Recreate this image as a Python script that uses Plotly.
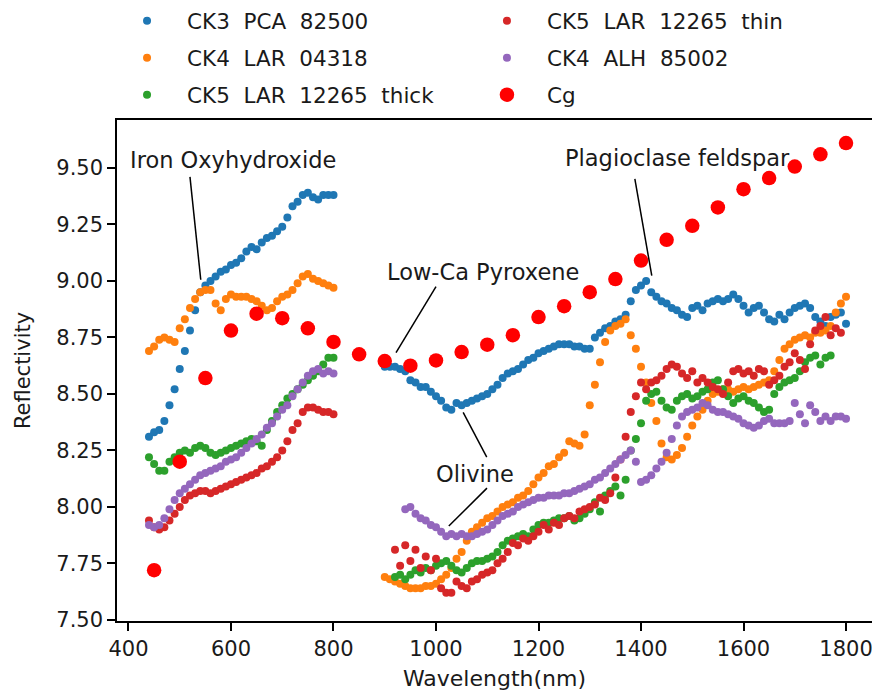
import plotly.graph_objects as go

# Wavelength grids (nm) for the visible and near-infrared segments
wl_vis = list(range(440, 801, 10))
wl_nir = list(range(900, 1801, 10))
wl_cg = list(range(450, 1801, 50))

# CK3 PCA 82500
ck3_pca_vis = [8.31, 8.33, 8.34, 8.38, 8.45, 8.52, 8.61, 8.69, 8.78, 8.87,
               8.95, 8.98, 9.00, 9.02, 9.04, 9.05, 9.07, 9.08, 9.10, 9.13,
               9.15, 9.14, 9.17, 9.19, 9.20, 9.22, 9.24, 9.28, 9.33, 9.35,
               9.38, 9.39, 9.37, 9.36, 9.38, 9.38, 9.38]
ck3_pca_nir = [8.62, 8.62, 8.62, 8.61, 8.60, 8.56, 8.55, 8.53, 8.53, 8.51,
               8.49, 8.47, 8.44, 8.43, 8.46, 8.45, 8.46, 8.47, 8.48, 8.49,
               8.50, 8.52, 8.54, 8.57, 8.59, 8.60, 8.61, 8.63, 8.65, 8.66,
               8.68, 8.69, 8.70, 8.71, 8.72, 8.72, 8.72, 8.71, 8.71, 8.70,
               8.70, 8.75, 8.77, 8.79, 8.80, 8.82, 8.83, 8.85, 8.91, 8.96,
               8.98, 9.00, 8.95, 8.93, 8.91, 8.90, 8.88, 8.87, 8.85, 8.84,
               8.88, 8.89, 8.87, 8.90, 8.91, 8.92, 8.91, 8.92, 8.94, 8.92,
               8.89, 8.86, 8.88, 8.89, 8.86, 8.83, 8.82, 8.85, 8.83, 8.86,
               8.88, 8.89, 8.90, 8.88, 8.84, 8.82, 8.80, 8.84, 8.85, 8.86,
               8.81]

# CK4 LAR 04318
ck4_lar_vis = [8.69, 8.71, 8.74, 8.75, 8.74, 8.73, 8.79, 8.83, 8.88, 8.92,
               8.95, 8.96, 8.96, 8.90, 8.87, 8.92, 8.94, 8.93, 8.93, 8.93,
               8.92, 8.91, 8.89, 8.87, 8.88, 8.91, 8.93, 8.94, 8.96, 8.99,
               9.02, 9.03, 9.01, 9.00, 8.99, 8.98, 8.97]
ck4_lar_nir = [7.69, 7.68, 7.67, 7.66, 7.65, 7.64, 7.64, 7.64, 7.65, 7.65,
               7.66, 7.68, 7.70, 7.73, 7.77, 7.80, 7.85, 7.89, 7.91, 7.93,
               7.95, 7.96, 7.98, 8.00, 8.01, 8.02, 8.04, 8.05, 8.07, 8.10,
               8.13, 8.15, 8.18, 8.19, 8.22, 8.24, 8.29, 8.28, 8.27, 8.32,
               8.45, 8.54, 8.64, 8.73, 8.78, 8.80, 8.81, 8.83, 8.76, 8.70,
               8.62, 8.55, 8.46, 8.38, 8.28, 8.22, 8.21, 8.23, 8.26, 8.31,
               8.36, 8.40, 8.43, 8.47, 8.50, 8.51, 8.52, 8.52, 8.51, 8.52,
               8.53, 8.52, 8.53, 8.54, 8.55, 8.56, 8.60, 8.65, 8.70, 8.72,
               8.74, 8.75, 8.76, 8.75, 8.77, 8.77, 8.78, 8.80, 8.86, 8.90,
               8.93]

# CK5 LAR 12265 thick
ck5_thick_vis = [8.22, 8.19, 8.16, 8.16, 8.20, 8.22, 8.24, 8.25, 8.24, 8.26,
                 8.27, 8.26, 8.24, 8.23, 8.24, 8.25, 8.26, 8.27, 8.28, 8.29,
                 8.30, 8.29, 8.27, 8.34, 8.38, 8.42, 8.45, 8.48, 8.50, 8.52,
                 8.54, 8.56, 8.58, 8.60, 8.63, 8.66, 8.66]
ck5_thick_nir = [None, None, 7.69, 7.70, 7.68, 7.70, 7.72, 7.71, 7.73, 7.72,
                 7.74, 7.75, 7.76, 7.74, 7.72, 7.71, 7.73, 7.75, 7.76, 7.76,
                 7.77, 7.78, 7.80, 7.83, 7.85, 7.86, 7.87, 7.88, 7.87, 7.90,
                 7.92, 7.93, 7.93, 7.94, 7.95, 7.95, 7.96, 7.94, 7.95, 7.97,
                 7.99, 8.02, 7.98, 8.05, 8.07, 8.09, 8.05, 8.12, 8.25, 8.30,
                 8.37, 8.47, 8.50, 8.51, 8.47, 8.44, 8.43, 8.47, 8.49, 8.50,
                 8.48, 8.49, 8.51, 8.52, 8.55, 8.56, 8.52, 8.49, 8.46, 8.48,
                 8.49, 8.47, 8.46, 8.44, 8.42, 8.43, 8.50, 8.53, 8.55, 8.56,
                 8.57, 8.60, 8.64, 8.66, 8.67, 8.63, 8.66, 8.67, None, None,
                 None]

# CK5 LAR 12265 thin
ck5_thin_vis = [7.94, 7.91, 7.90, 7.91, 7.94, 7.97, 8.00, 8.03, 8.05, 8.06,
                8.07, 8.07, 8.06, 8.07, 8.08, 8.09, 8.10, 8.11, 8.12, 8.13,
                8.14, 8.15, 8.17, 8.18, 8.20, 8.22, 8.25, 8.29, 8.34, 8.37,
                8.42, 8.44, 8.44, 8.43, 8.42, 8.42, 8.41]
ck5_thin_nir = [None, None, 7.81, 7.74, 7.83, 7.76, 7.81, 7.73, 7.78, 7.72,
                7.77, 7.64, 7.62, 7.62, 7.67, 7.65, 7.64, 7.67, 7.68, 7.70,
                7.71, 7.72, 7.75, 7.77, 7.80, 7.84, 7.83, 7.86, 7.85, 7.87,
                7.89, 7.92, 7.90, 7.93, 7.92, 7.95, 7.96, 7.95, 7.98, 7.99,
                8.00, 8.01, 8.04, 8.03, 8.06, 8.13, 8.21, 8.31, 8.42, 8.49,
                8.55, 8.52, 8.55, 8.56, 8.58, 8.61, 8.63, 8.62, 8.59, 8.57,
                8.60, 8.55, 8.57, 8.55, 8.53, 8.52, 8.50, 8.55, 8.60, 8.61,
                8.59, 8.60, 8.58, 8.61, 8.60, 8.54, 8.56, 8.58, 8.62, 8.64,
                8.68, 8.65, 8.61, 8.72, 8.78, 8.80, 8.84, 8.76, 8.79, 8.77,
                None]

# CK4 ALH 85002
ck4_alh_vis = [7.92, 7.91, 7.92, 7.95, 7.99, 8.03, 8.06, 8.08, 8.10, 8.12,
               8.14, 8.15, 8.16, 8.17, 8.18, 8.20, 8.21, 8.22, 8.24, 8.26,
               8.28, 8.30, 8.32, 8.35, 8.37, 8.40, 8.43, 8.45, 8.49, 8.52,
               8.55, 8.58, 8.60, 8.61, 8.59, 8.60, 8.59]
ck4_alh_nir = [None, None, None, None, 7.99, 8.00, 7.97, 7.95, 7.94, 7.92,
               7.91, 7.89, 7.87, 7.88, 7.87, 7.88, 7.87, 7.87, 7.88, 7.89,
               7.90, 7.92, 7.94, 7.96, 7.97, 7.98, 8.00, 8.01, 8.02, 8.03,
               8.04, 8.04, 8.05, 8.05, 8.05, 8.06, 8.06, 8.07, 8.08, 8.09,
               8.10, 8.12, 8.13, 8.15, 8.17, 8.19, 8.21, 8.23, 8.25, 8.20,
               8.11, 8.12, 8.14, 8.17, 8.20, 8.24, 8.30, 8.36, 8.40, 8.42,
               8.43, 8.44, 8.46, 8.45, 8.43, 8.42, 8.42, 8.41, 8.40, 8.39,
               8.37, 8.36, 8.35, 8.36, 8.38, 8.39, 8.37, 8.37, 8.37, 8.38,
               8.46, 8.41, 8.37, 8.45, 8.42, 8.38, 8.40, 8.38, 8.40, 8.40,
               8.39]

# Cg reference spectrum
cg = [7.72, 8.20, 8.57, 8.78, 8.855, 8.835, 8.79, 8.73, 8.675, 8.645,
      8.625, 8.648, 8.685, 8.718, 8.76, 8.84, 8.888, 8.95, 9.008, 9.09,
      9.182, 9.244, 9.325, 9.406, 9.455, 9.506, 9.56, 9.61]

FONT = "DejaVu Sans"
TXT = "#1a1a1a"

series = [
    ("CK3  PCA  82500", ck3_pca_vis, ck3_pca_nir, "#1f77b4", "legend"),
    ("CK4  LAR  04318", ck4_lar_vis, ck4_lar_nir, "#ff7f0e", "legend"),
    ("CK5  LAR  12265  thick", ck5_thick_vis, ck5_thick_nir, "#2ca02c", "legend"),
    ("CK5  LAR  12265  thin", ck5_thin_vis, ck5_thin_nir, "#d62728", "legend2"),
    ("CK4  ALH  85002", ck4_alh_vis, ck4_alh_nir, "#9467bd", "legend2"),
]

fig = go.Figure()
for i, (name, vis, nir, color, leg) in enumerate(series):
    fig.add_trace(go.Scatter(
        x=wl_vis + wl_nir, y=vis + nir, mode="markers", name=name,
        marker=dict(size=8, color=color, line=dict(width=0)),
        legend=leg, legendgroup=f"g{i}",
    ))
fig.add_trace(go.Scatter(
    x=wl_cg, y=cg, mode="markers", name="Cg",
    marker=dict(size=14.5, color="#ff0000", line=dict(width=0)),
    legend="legend2", legendgroup="g5",
))

# Absorption-feature labels with leader lines (data coordinates)
labels = [
    ("Iron Oxyhydroxide", 604, 9.535, [(520, 9.46, 541, 9.005)]),
    ("Low-Ca Pyroxene", 1091, 9.041, [(1000, 8.975, 922, 8.683)]),
    ("Olivine", 1077, 8.145, [(1099, 8.22, 1053, 8.418), (1099.5, 8.083, 1025, 7.915)]),
    ("Plagioclase feldspar", 1471, 9.544, [(1388, 9.451, 1421, 9.023)]),
]
for text, tx, ty, segs in labels:
    fig.add_annotation(x=tx, y=ty, xref="x", yref="y", text=text, showarrow=False,
                       font=dict(family=FONT, size=22.5, color=TXT))
    for x0, y0, x1, y1 in segs:
        fig.add_shape(type="line", x0=x0, y0=y0, x1=x1, y1=y1, xref="x", yref="y",
                      line=dict(color="black", width=1.5))

legend_common = dict(
    orientation="v", xanchor="left", yanchor="top", bgcolor="rgba(0,0,0,0)",
    font=dict(family=FONT, size=21.5, color=TXT), itemwidth=70, tracegroupgap=6,
    itemsizing="trace",
)
fig.update_layout(
    width=872, height=693,
    margin=dict(l=117, r=0, t=120, b=72),
    paper_bgcolor="white", plot_bgcolor="white",
    font=dict(family=FONT, size=21, color=TXT),
    legend=dict(x=-0.0132, y=1.239, **legend_common),
    legend2=dict(x=0.4635, y=1.239, **legend_common),
    xaxis=dict(
        range=[377.6, 1850.7], tickvals=list(range(400, 1801, 200)),
        ticks="outside", ticklen=8, tickwidth=1.5, tickcolor="black",
        ticklabeloverflow="allow",
        showline=True, linecolor="black", linewidth=1.5, mirror=True,
        showgrid=False, zeroline=False,
        title=dict(text="Wavelength(nm)", standoff=11, font=dict(family=FONT, size=22, color=TXT)),
        tickfont=dict(family=FONT, size=21, color=TXT),
    ),
    yaxis=dict(
        range=[7.495, 9.712], tickvals=[7.5, 7.75, 8.0, 8.25, 8.5, 8.75, 9.0, 9.25, 9.5],
        tickformat=".2f",
        ticks="outside", ticklen=8, tickwidth=1.5, tickcolor="black",
        showline=True, linecolor="black", linewidth=1.5, mirror=False,
        showgrid=False, zeroline=False,
        title=dict(text="Reflectivity", standoff=20, font=dict(family=FONT, size=21, color=TXT)),
        tickfont=dict(family=FONT, size=21, color=TXT),
    ),
)

fig.write_html("out.html")
